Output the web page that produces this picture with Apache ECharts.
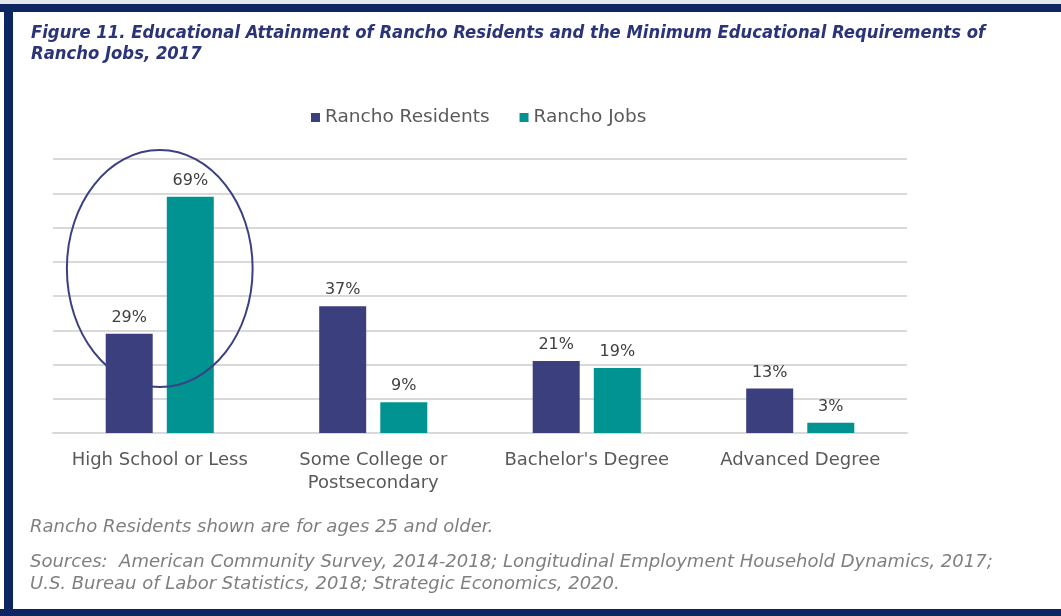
<!DOCTYPE html>
<html><head><meta charset="utf-8">
<script src="https://cdn.jsdelivr.net/npm/echarts@6/dist/echarts.min.js"></script>
<style>html,body{margin:0;padding:0;background:#fff}#c{width:1061px;height:616px}</style>
</head><body><div id="c"></div>
<script>
const categories = ['High School or Less', 'Some College or\nPostsecondary', "Bachelor's Degree", 'Advanced Degree'];
const residents = [29, 37, 21, 13];
const jobs = [69, 9, 19, 3];
const seriesNames = ['Rancho Residents', 'Rancho Jobs'];
const titleText = 'Figure 11. Educational Attainment of Rancho Residents and the Minimum Educational Requirements of\nRancho Jobs, 2017';
const note1 = 'Rancho Residents shown are for ages 25 and older.';
const note2 = 'Sources:  American Community Survey, 2014-2018; Longitudinal Employment Household Dynamics, 2017;\nU.S. Bureau of Labor Statistics, 2018; Strategic Economics, 2020.';

const NAVY = '#3b3f7e', TEAL = '#009391';
const FONT = '"DejaVu Sans", sans-serif';
const chart = echarts.init(document.getElementById('c'));
const labelCommon = {show: true, position: 'top', formatter: '{c}%', color: '#404040', fontSize: 16, fontFamily: FONT, distance: 8};
chart.setOption({
  backgroundColor: '#fff',
  animation: false,
  title: {
    text: titleText, left: 31, top: 23, padding: 0,
    textStyle: {fontFamily: '"DejaVu Sans Condensed", "DejaVu Sans", sans-serif', fontStyle: 'italic', fontWeight: 'bold', fontSize: 18.3, color: '#2b3478', lineHeight: 21}
  },
  legend: {
    data: seriesNames, top: 103, left: 306, itemWidth: 9, itemHeight: 9, itemGap: 30,
    icon: 'rect',
    textStyle: {fontFamily: FONT, fontSize: 18.5, color: '#595959'}
  },
  grid: {left: 53, right: 154, top: 159, bottom: 183, containLabel: false},
  xAxis: {
    type: 'category', data: categories,
    axisLine: {show: true, lineStyle: {color: '#d9d9d9', width: 2}},
    axisTick: {show: false},
    axisLabel: {fontFamily: FONT, fontSize: 18, color: '#595959', margin: 16, lineHeight: 23, interval: 0}
  },
  yAxis: {
    type: 'value', min: 0, max: 80, interval: 10,
    axisLabel: {show: false}, axisLine: {show: false}, axisTick: {show: false},
    splitLine: {lineStyle: {color: '#d9d9d9', width: 2}}
  },
  series: [
    {name: seriesNames[0], type: 'bar', data: residents, barWidth: 47, barGap: '30%', itemStyle: {color: NAVY}, label: labelCommon},
    {name: seriesNames[1], type: 'bar', data: jobs, barWidth: 47, itemStyle: {color: TEAL}, label: labelCommon}
  ],
  graphic: [
    {type: 'rect', shape: {x: 0, y: 0, width: 1061, height: 4}, style: {fill: '#e4e8ee'}, silent: true},
    {type: 'rect', shape: {x: 0, y: 4, width: 1061, height: 8}, style: {fill: '#0d2560'}, silent: true},
    {type: 'rect', shape: {x: 4, y: 4, width: 9, height: 612}, style: {fill: '#0d2560'}, silent: true},
    {type: 'rect', shape: {x: 0, y: 609, width: 1061, height: 7}, style: {fill: '#0d2560'}, silent: true},
    {type: 'text', left: 30, top: 518, style: {text: note1, font: 'italic 18px "DejaVu Sans", sans-serif', fill: '#7f7f7f'}, silent: true},
    {type: 'text', left: 30, top: 551, style: {text: note2, font: 'italic 18px "DejaVu Sans", sans-serif', fill: '#7f7f7f', lineHeight: 22}, silent: true}
  ]
});
// annotation ellipse around the first category, positioned through the axes
const c0 = chart.convertToPixel({xAxisIndex: 0, yAxisIndex: 0}, [0, 48]);
const c1 = chart.convertToPixel({xAxisIndex: 0, yAxisIndex: 0}, [1, 82.6]);
const rx = (c1[0] - c0[0]) * 0.435;
const ry = c0[1] - c1[1];
chart.setOption({graphic: [{type: 'ellipse', id: 'ell', shape: {cx: c0[0], cy: c0[1], rx: rx, ry: ry}, style: {fill: null, stroke: '#3b4180', lineWidth: 2}, z: 10, silent: true}]});
</script></body></html>
